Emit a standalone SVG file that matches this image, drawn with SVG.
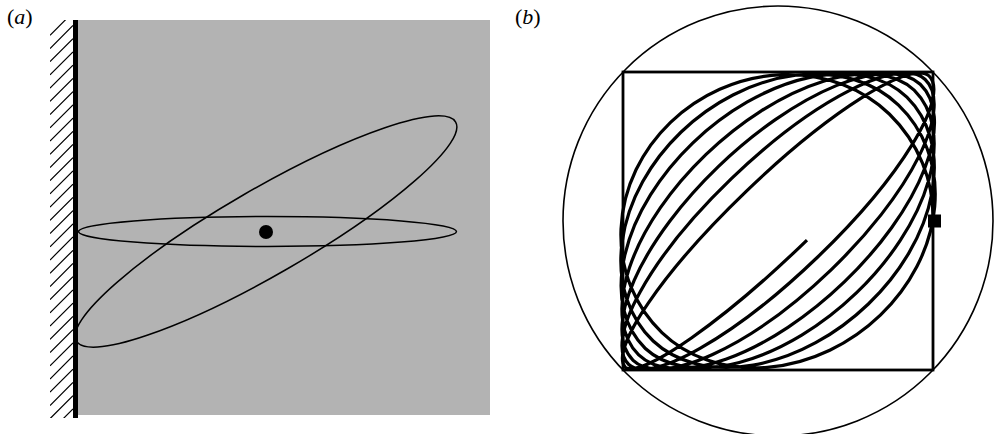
<svg xmlns="http://www.w3.org/2000/svg" width="996" height="434" viewBox="0 0 996 434">
<style>
.lbl{font-family:"Liberation Serif","Times New Roman",serif;font-size:22px;fill:#000}
.thin{fill:none;stroke:#000;stroke-width:1.5}
.hatch{fill:none;stroke:#000;stroke-width:1.2}
.traj{fill:none;stroke:#000;stroke-width:3.2;vector-effect:non-scaling-stroke}
</style>
<defs>
<clipPath id="hc"><rect x="50" y="20" width="23" height="398"/></clipPath>
<clipPath id="gc"><rect x="78" y="20" width="412" height="395"/></clipPath>
</defs>
<rect x="0" y="0" width="996" height="434" fill="#fff"/>
<g id="label-a"><text class="lbl" x="7" y="24">(<tspan font-style="italic">a</tspan>)</text></g>
<g id="label-b"><text class="lbl" x="515" y="24">(<tspan font-style="italic">b</tspan>)</text></g>
<g id="panel-a">
<rect id="plate" x="78" y="20" width="412" height="395" fill="#b3b3b3"/>
<g id="hatching" clip-path="url(#hc)">
<path class="hatch" d="M50 35.3L73 12.3M50 48.5L73 25.5M50 61.7L73 38.7M50 74.9L73 51.9M50 88.2L73 65.2M50 101.4L73 78.4M50 114.6L73 91.6M50 127.8L73 104.8M50 141.1L73 118.1M50 154.3L73 131.3M50 167.5L73 144.5M50 180.7L73 157.7M50 193.9L73 170.9M50 207.2L73 184.2M50 220.4L73 197.4M50 233.6L73 210.6M50 246.8L73 223.8M50 260L73 237M50 273.3L73 250.3M50 286.5L73 263.5M50 299.7L73 276.7M50 312.9L73 289.9M50 326.1L73 303.1M50 339.4L73 316.4M50 352.6L73 329.6M50 365.8L73 342.8M50 379L73 356M50 392.2L73 369.2M50 405.5L73 382.5M50 418.7L73 395.7M50 431.9L73 408.9"/>
</g>
<line id="wall" x1="75.5" y1="20" x2="75.5" y2="418" stroke="#000" stroke-width="5"/>
<g id="ellipses" clip-path="url(#gc)">
<ellipse class="thin" cx="267.5" cy="231.5" rx="189" ry="15"/>
<ellipse class="thin" cx="266" cy="231.5" rx="219" ry="43" transform="rotate(-30 266 231.5)"/>
</g>
<circle id="dot" cx="266" cy="232" r="7" fill="#000"/>
</g>
<g id="panel-b">
<circle id="outer-circle" cx="778" cy="221" r="215" fill="none" stroke="#000" stroke-width="1.6"/>
<rect id="box" x="623" y="72" width="310" height="298" fill="none" stroke="#000" stroke-width="2.8"/>
<g id="trajectory" transform="translate(778 221) scale(155 -149)">
<path class="traj" d="M0.187 -0.128A1.3948 0.2334 45 0 0 -0.9837 -0.9837A1.3845 0.2885 45 0 0 0.9742 0.9742A1.3697 0.3519 45 0 0 -0.9629 -0.9629A1.3524 0.4135 45 0 0 0.9497 0.9497A1.3325 0.4737 45 0 0 -0.9348 -0.9348A1.31 0.5328 45 0 0 0.9178 0.9178A1.2845 0.5916 45 0 0 -0.8988 -0.8988A1.2567 0.6486 45 0 0 0.8784 0.8784A1.2263 0.7044 45 0 0 -0.8558 -0.8558A1.1931 0.7593 45 0 0 0.8315 0.8315A1.1575 0.8125 45 0 0 -0.8054 -0.8054A1.1194 0.8642 45 0 0 0.7777 0.7777A1.0795 0.9136 45 0 0 -0.749 -0.749A1.0374 0.9611 45 0 0 0.7181 0.7181A1.0087 0.9913 45 0 0 1 0"/>
</g>
<rect id="marker" x="928" y="214.5" width="13" height="13" fill="#000"/>
</g>
</svg>
